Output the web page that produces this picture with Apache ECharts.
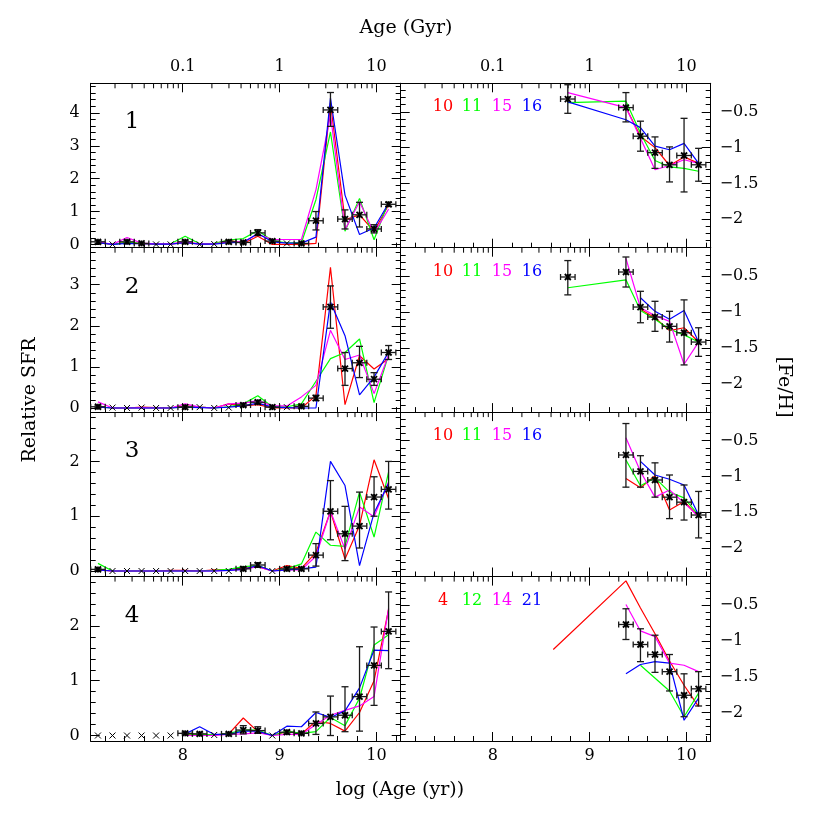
<!DOCTYPE html>
<html><head><meta charset="utf-8">
<script src="https://cdn.jsdelivr.net/npm/echarts@6/dist/echarts.min.js"></script>
<style>html,body{margin:0;padding:0;background:#fff}#c{width:830px;height:830px}</style>
</head><body><div id="c"></div>
<script>
// ---------- DATA ----------
const logAge = [7.125,7.275,7.425,7.575,7.725,7.875,8.025,8.175,8.325,8.475,8.625,8.775,8.925,9.075,9.225,9.375,9.525,9.675,9.825,9.975,10.125];
const binHalfWidth = 0.075;
const topTickLabels = {8:'0.1', 9:'1', 10:'10'};
const minorAgeTicksGyr = [0.02,0.03,0.04,0.05,0.06,0.07,0.08,0.09,0.2,0.3,0.4,0.5,0.6,0.7,0.8,0.9,2,3,4,5,6,7,8,9];

// Panel 1 relative SFR
const sfr1   = [0.08,0.0,0.08,0.03,0.0,0.0,0.08,0.0,0.01,0.08,0.06,0.35,0.1,0.03,0.03,0.72,4.09,0.77,0.9,0.47,1.22];
const sfr1Lo = [0.04,0.0,0.04,0.01,0.0,0.0,0.04,0.0,0.01,0.04,0.03,0.27,0.06,0.03,0.01,0.44,3.59,0.47,0.53,0.35,1.16];
const sfr1Hi = [0.12,0.0,0.12,0.05,0.0,0.0,0.12,0.0,0.01,0.12,0.09,0.45,0.14,0.03,0.05,1.0,4.62,1.05,1.28,0.6,1.28];
const sfr1Red     = [0.05,0.0,0.06,0.02,0.01,0.01,0.06,0.01,0.02,0.13,0.03,0.25,0.0,0.0,0.0,0.03,4.3,0.75,0.9,0.4,1.2];
const sfr1Green   = [0.06,0.0,0.06,0.03,0.02,0.02,0.25,0.02,0.03,0.13,0.18,0.42,0.11,0.05,0.05,1.36,3.42,0.4,1.4,0.14,1.3];
const sfr1Magenta = [0.08,0.0,0.21,0.04,0.02,0.02,0.08,0.02,0.02,0.08,0.08,0.31,0.15,0.15,0.15,1.66,3.95,0.45,1.3,0.35,1.07];
const sfr1Blue    = [0.05,0.0,0.03,0.02,0.01,0.01,0.05,0.01,0.01,0.05,0.06,0.33,0.08,0.04,0.04,0.22,4.45,1.5,0.3,0.5,1.25];

// Panel 2
const sfr2   = [0.03,0.01,0.0,0.01,0.0,0.0,0.02,0.02,0.0,0.01,0.07,0.14,0.02,0.02,0.04,0.24,2.46,0.96,1.1,0.7,1.35];
const sfr2Lo = [0.01,0.01,0.0,0.01,0.0,0.0,0.01,0.02,0.0,0.01,0.04,0.1,0.01,0.02,0.02,0.18,1.94,0.55,0.74,0.55,1.18];
const sfr2Hi = [0.05,0.01,0.0,0.01,0.0,0.0,0.03,0.02,0.0,0.01,0.1,0.18,0.03,0.02,0.06,0.31,2.97,1.35,1.5,0.86,1.52];
const sfr2Red     = [0.03,0.0,0.0,0.02,0.01,0.0,0.05,0.02,0.0,0.1,0.05,0.08,0.0,0.0,0.0,0.3,3.42,0.08,1.27,0.95,1.2];
const sfr2Green   = [0.03,0.0,0.0,0.01,0.0,0.0,0.03,0.02,0.0,0.03,0.1,0.3,0.03,0.03,0.1,0.65,1.2,1.35,1.68,0.13,1.3];
const sfr2Magenta = [0.15,0.0,0.0,0.01,0.0,0.0,0.1,0.02,0.0,0.1,0.12,0.18,0.05,0.05,0.27,0.55,1.89,1.18,1.29,0.35,1.29];
const sfr2Blue    = [0.02,0.0,0.0,0.0,0.0,0.0,0.02,0.01,0.0,0.02,0.05,0.12,0.02,0.01,0.0,0.0,2.58,1.76,0.32,0.75,1.36];

// Panel 3
const sfr3   = [0.03,0.0,0.0,0.0,0.0,0.0,0.0,0.0,0.0,0.0,0.04,0.11,0.0,0.04,0.04,0.29,1.09,0.68,0.82,1.35,1.49];
const sfr3Lo = [0.01,0.0,0.0,0.0,0.0,0.0,0.0,0.0,0.0,0.0,0.02,0.07,0.0,0.02,0.02,0.09,0.57,0.19,0.42,1.0,1.13];
const sfr3Hi = [0.05,0.0,0.0,0.0,0.0,0.0,0.0,0.0,0.0,0.0,0.07,0.15,0.0,0.06,0.06,0.5,1.65,1.18,1.44,1.72,2.0];
const sfr3Red     = [0.02,0.0,0.0,0.0,0.0,0.01,0.01,0.0,0.02,0.02,0.05,0.08,0.0,0.1,0.05,0.34,1.09,0.22,0.83,2.03,1.32];
const sfr3Green   = [0.14,0.0,0.0,0.0,0.0,0.0,0.0,0.0,0.01,0.03,0.08,0.1,0.0,0.04,0.13,0.71,0.47,0.45,1.44,0.62,1.81];
const sfr3Magenta = [0.02,0.0,0.0,0.0,0.0,0.0,0.0,0.0,0.0,0.01,0.03,0.08,0.0,0.02,0.02,0.27,1.09,0.4,1.17,0.99,1.63];
const sfr3Blue    = [0.02,0.0,0.0,0.0,0.0,0.0,0.0,0.0,0.0,0.01,0.03,0.1,0.0,0.02,0.04,0.07,2.0,1.56,0.1,1.06,1.6];

// Panel 4
const sfr4   = [0.0,0.0,0.0,0.0,0.0,0.0,0.04,0.03,0.01,0.03,0.1,0.09,0.0,0.06,0.04,0.22,0.34,0.37,0.71,1.28,1.9];
const sfr4Lo = [0.0,0.0,0.0,0.0,0.0,0.0,0.02,0.01,0.01,0.01,0.03,0.04,0.0,0.03,0.02,0.02,0.0,0.07,0.08,0.55,1.22];
const sfr4Hi = [0.0,0.0,0.0,0.0,0.0,0.0,0.06,0.05,0.01,0.05,0.18,0.16,0.0,0.09,0.06,0.43,0.72,0.89,1.62,1.98,2.62];
const sfr4Red     = [null,null,null,null,null,null,0.02,0.02,0.01,0.03,0.32,0.07,0.0,0.07,0.03,0.26,0.22,0.08,0.42,1.0,2.3];
const sfr4Green   = [null,null,null,null,null,null,0.03,0.02,0.01,0.04,0.1,0.1,0.0,0.08,0.04,0.07,0.33,0.18,0.68,1.65,1.84];
const sfr4Magenta = [null,null,null,null,null,null,0.0,0.0,0.0,0.02,0.03,0.05,0.0,0.02,0.02,0.2,0.37,0.46,0.54,0.71,2.32];
const sfr4Blue    = [null,null,null,null,null,null,0.03,0.16,0.02,0.02,0.08,0.08,0.0,0.17,0.16,0.42,0.33,0.45,0.87,1.56,1.55];

// [Fe/H] panels
const feAge = [8.625,8.775,9.375,9.525,9.675,9.825,9.975,10.125];
const feh1   = [null,-0.32,-0.44,-0.84,-1.07,-1.24,-1.11,-1.24];
const feh1Lo = [null,-0.52,-0.64,-1.05,-1.29,-1.48,-1.62,-1.47];
const feh1Hi = [null,-0.12,-0.23,-0.63,-0.85,-0.99,-0.59,-1.01];
const feh1Red     = [null,null,-0.44,-0.84,-1.0,-1.25,-1.13,-1.22];
const feh1Green   = [null,-0.37,-0.35,-0.8,-1.18,-1.27,-1.29,-1.33];
const feh1Magenta = [null,-0.23,-0.44,-0.87,-1.31,-1.25,-1.17,-1.22];
const feh1Blue    = [null,-0.36,-0.61,-0.72,-0.98,-1.03,-0.94,-1.22];

const feh2   = [null,-0.51,-0.44,-0.93,-1.07,-1.2,-1.29,-1.42];
const feh2Lo = [null,-0.76,-0.65,-1.15,-1.27,-1.42,-1.74,-1.62];
const feh2Hi = [null,-0.28,-0.23,-0.71,-0.85,-0.99,-0.83,-1.22];
const feh2Red     = [null,null,null,-0.96,-1.08,-1.26,-1.22,-1.42];
const feh2Green   = [null,-0.66,-0.55,-0.98,-1.1,-1.24,-1.32,-1.42];
const feh2Magenta = [null,null,-0.25,-0.94,-1.05,-1.13,-1.73,-1.42];
const feh2Blue    = [null,null,null,-0.8,-0.99,-1.1,-0.98,-1.42];

const feh3   = [null,null,-0.70,-0.93,-1.05,-1.29,-1.36,-1.54];
const feh3Lo = [null,null,-1.15,-1.15,-1.29,-1.59,-1.61,-1.86];
const feh3Hi = [null,null,-0.26,-0.71,-0.81,-0.98,-1.12,-1.21];
const feh3Red     = [null,null,-1.03,-1.16,-0.99,-1.47,-1.35,-1.56];
const feh3Green   = [null,null,-0.77,-1.13,-1.02,-1.22,-1.3,-1.54];
const feh3Magenta = [null,null,-0.46,-0.93,-1.29,-1.19,-1.37,-1.56];
const feh3Blue    = [null,null,null,-0.79,-0.98,-1.04,-1.12,-1.54];

const feh4   = [null,null,-0.77,-1.05,-1.19,-1.43,-1.76,-1.67];
const feh4Lo = [null,null,-0.98,-1.29,-1.44,-1.7,-2.06,-1.91];
const feh4Hi = [null,null,-0.55,-0.83,-0.92,-1.19,-1.46,-1.43];
const feh4Red     = [-1.12,null,-0.16,-0.54,-0.9,-1.28,-1.62,-1.92];
const feh4Green   = [null,null,null,-1.34,null,-1.7,-2.06,-1.73];
const feh4Magenta = [null,null,-0.49,-0.86,-0.94,-1.31,-1.34,-1.43];
const feh4Blue    = [null,null,-1.46,-1.33,-1.29,-1.31,-2.11,-1.8];

const panelLabels = ['1','2','3','4'];
const modelLabels = [['10','11','15','16'],['10','11','15','16'],['10','11','15','16'],['4','12','14','21']];
const modelColors = ['#ff0000','#00ff00','#ff00ff','#0000ff'];

const sfrPanels = [
  {obs:sfr1, lo:sfr1Lo, hi:sfr1Hi, models:[sfr1Red,sfr1Green,sfr1Magenta,sfr1Blue]},
  {obs:sfr2, lo:sfr2Lo, hi:sfr2Hi, models:[sfr2Red,sfr2Green,sfr2Magenta,sfr2Blue]},
  {obs:sfr3, lo:sfr3Lo, hi:sfr3Hi, models:[sfr3Red,sfr3Green,sfr3Magenta,sfr3Blue]},
  {obs:sfr4, lo:sfr4Lo, hi:sfr4Hi, models:[sfr4Red,sfr4Green,sfr4Magenta,sfr4Blue]}
];
const fePanels = [
  {obs:feh1, lo:feh1Lo, hi:feh1Hi, models:[feh1Red,feh1Green,feh1Magenta,feh1Blue]},
  {obs:feh2, lo:feh2Lo, hi:feh2Hi, models:[feh2Red,feh2Green,feh2Magenta,feh2Blue]},
  {obs:feh3, lo:feh3Lo, hi:feh3Hi, models:[feh3Red,feh3Green,feh3Magenta,feh3Blue]},
  {obs:feh4, lo:feh4Lo, hi:feh4Hi, models:[feh4Red,feh4Green,feh4Magenta,feh4Blue]}
];
const sfrYMax = [4.9, 3.9, 2.9, 2.9];
const sfrSplit = [5, 4, 3, 3];

// ---------- LAYOUT ----------
const FONT = 'DejaVu Serif';
const rowTop = [83.3, 247.7, 412.1, 576.6];
const rowH = 164.4;
const colLeft = [90.7, 400.7];
const colW = 310;
const X_MIN = 7.05, X_MAX = 10.25;

const chart = echarts.init(document.getElementById('c'), null, {renderer:'canvas'});
const grids = [], xAxes = [], yAxes = [], series = [];
const black = {color:'#000', width:1};
const logMinor = minorAgeTicksGyr.map(a => Math.log10(a) + 9).filter(v => v > X_MIN && v < X_MAX);

function errorBarItem(params, api) {
  const x = api.value(0), y = api.value(1), lo = api.value(2), hi = api.value(3);
  const p = api.coord([x, y]);
  const st = {stroke:'#1a1a1a', lineWidth:1.3};
  const kids = [];
  const seg = (x1,y1,x2,y2,s) => kids.push({type:'line', shape:{x1,y1,x2,y2}, style:s||st});
  if (hi > lo) {
    const pl = api.coord([x, lo]), ph = api.coord([x, hi]);
    seg(p[0], pl[1], p[0], ph[1]);
    seg(p[0]-3.5, pl[1], p[0]+3.5, pl[1]);
    seg(p[0]-3.5, ph[1], p[0]+3.5, ph[1]);
    const xl = api.coord([x - binHalfWidth, y])[0], xr = api.coord([x + binHalfWidth, y])[0];
    seg(xl, p[1], xr, p[1]);
    seg(xl, p[1]-3, xl, p[1]+3);
    seg(xr, p[1]-3, xr, p[1]+3);
    const ms = {stroke:'#000', lineWidth:1.8};
    seg(p[0]-3, p[1]-3, p[0]+3, p[1]+3, ms);
    seg(p[0]-3, p[1]+3, p[0]+3, p[1]-3, ms);
    seg(p[0], p[1]-3, p[0], p[1]+3, ms);
  } else {
    const ms = {stroke:'#000', lineWidth:1};
    seg(p[0]-3, p[1]-3, p[0]+3, p[1]+3, ms);
    seg(p[0]-3, p[1]+3, p[0]+3, p[1]-3, ms);
  }
  return {type:'group', children:kids};
}

function logTickItem(params, api) {
  const x = api.coord([api.value(0), api.value(1)])[0];
  const top = params.coordSys.y;
  return {type:'line', shape:{x1:x, y1:top, x2:x, y2:top+5}, style:{stroke:'#000', lineWidth:1}};
}

const minus = v => String(v).replace('-', '\u2212');

for (let r = 0; r < 4; r++) {
  for (let c = 0; c < 2; c++) {
    const g = grids.length;
    grids.push({left:colLeft[c], top:rowTop[r], width:colW, height:rowH, containLabel:false});
    const xBase = {gridIndex:g, type:'value', min:X_MIN, max:X_MAX, splitNumber:3,
      axisLine:{onZero:false, lineStyle:black}, splitLine:{show:false}, minorSplitLine:{show:false}};
    xAxes.push(Object.assign({}, xBase, {position:'bottom',
      axisTick:{inside:true, length:9, lineStyle:black},
      minorTick:{show:true, splitNumber:5, length:5, lineStyle:black},
      axisLabel:{show:r===3, showMinLabel:false, showMaxLabel:false, color:'#000', fontFamily:FONT, fontSize:16, margin:7}}));
    xAxes.push(Object.assign({}, xBase, {position:'top',
      axisTick:{inside:true, length:9, lineStyle:black},
      minorTick:{show:false},
      axisLabel:{show:r===0, showMinLabel:false, showMaxLabel:false, color:'#000', fontFamily:FONT, fontSize:16, margin:8,
        formatter: v => topTickLabels[Math.round(v)] || ''}}));
    const yMin = c === 0 ? -0.1 : -2.4;
    const yMax = c === 0 ? sfrYMax[r] : -0.1;
    const ySplit = c === 0 ? sfrSplit[r] : 5;
    const yBase = {gridIndex:g, type:'value', min:yMin, max:yMax, splitNumber:ySplit,
      axisLine:{onZero:false, lineStyle:black}, splitLine:{show:false}, minorSplitLine:{show:false},
      axisTick:{inside:true, length:9, lineStyle:black},
      minorTick:{show:true, splitNumber:5, length:5, lineStyle:black}};
    yAxes.push(Object.assign({}, yBase, {position:'left',
      axisLabel:{show:c===0, showMinLabel:false, showMaxLabel:false, color:'#000', fontFamily:FONT, fontSize:16, margin:11}}));
    yAxes.push(Object.assign({}, yBase, {position:'right',
      axisLabel:{show:c===1, showMinLabel:false, showMaxLabel:false, color:'#000', fontFamily:FONT, fontSize:16, margin:9,
        formatter: minus}}));

    // log-age minor ticks on the top edge
    series.push({type:'custom', xAxisIndex:2*g+1, yAxisIndex:2*g, silent:true, clip:false, z:5,
      renderItem:logTickItem, data:logMinor.map(v => [v, yMin])});

    const P = c === 0 ? sfrPanels[r] : fePanels[r];
    const xs = c === 0 ? logAge : feAge;
    P.models.forEach((m, k) => {
      series.push({type:'line', xAxisIndex:2*g, yAxisIndex:2*g, silent:true, z:2+k*0.1,
        showSymbol:false, symbol:'none', connectNulls:true,
        lineStyle:{color:modelColors[k], width:1.2}, itemStyle:{color:modelColors[k]},
        data: xs.map((x,i) => [x, m[i]]).filter(p => p[1] !== null)});
    });
    series.push({type:'custom', xAxisIndex:2*g, yAxisIndex:2*g, silent:true, z:10, clip:false,
      renderItem:errorBarItem, encode:{x:0, y:1},
      data: xs.map((x,i) => [x, P.obs[i], P.lo[i], P.hi[i]]).filter(p => p[1] !== null)});
  }
}

// ---------- TEXT ----------
const graphic = [];
const txt = (text, x, y, size, color, rotation) => graphic.push({type:'text', x, y, rotation:rotation||0, silent:true,
  style:{text, fill:color||'#000', font:size+'px "'+FONT+'"', textAlign:'center', textVerticalAlign:'middle', align:'center', verticalAlign:'middle'}});
txt('Age (Gyr)', 406, 28, 19);
txt('log (Age (yr))', 400, 790, 19);
txt('Relative SFR', 30, 400, 19, '#000', Math.PI/2);
txt('[Fe/H]', 784, 387, 19, '#000', -Math.PI/2);
const legendX = [443, 472, 502, 532];
for (let r = 0; r < 4; r++) {
  txt(panelLabels[r], 132, rowTop[r] + 39, 23);
  modelLabels[r].forEach((t, k) => txt(t, legendX[k], rowTop[r] + 24, 16, modelColors[k]));
}

chart.setOption({animation:false, backgroundColor:'#fff', grid:grids, xAxis:xAxes, yAxis:yAxes, series, graphic});
</script>
</body></html>
